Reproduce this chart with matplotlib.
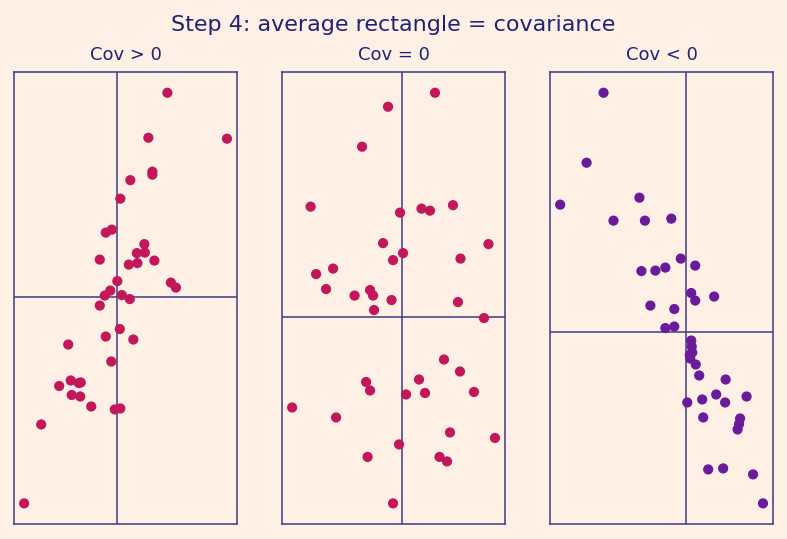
import numpy as np
import matplotlib
matplotlib.use("Agg")
import matplotlib.pyplot as plt

BG = "#fff0e5"
INK = "#1f2277"
LINE = "#3b3b88"

titles = ["Cov > 0", "Cov = 0", "Cov < 0"]
colors = ["#c2185b", "#c2185b", "#6a1b9a"]

# panel 1: positive covariance
pos_x = [1.01, 2.20, 0.63, 0.71, 0.71, 0.27, 0.07, -0.22, -0.10, 0.55,
         0.40, 0.56, -0.34, 0.24, 0.41, 0.75, 0.01, 1.08, 1.18, -0.24,
         -0.13, 0.10, 0.26, -0.34, 0.06, -0.22, 0.33, -0.97, -0.11, -0.92,
         -0.76, -0.72, -1.15, -0.90, -0.73, -0.51, -0.04, 0.07, -1.51, -1.85]
pos_y = [4.09, 3.17, 3.19, 2.51, 2.45, 2.34, 1.97, 1.29, 1.35, 1.06,
         0.88, 0.89, 0.75, 0.65, 0.68, 0.73, 0.32, 0.29, 0.19, 0.03,
         0.13, 0.04, -0.04, -0.17, -0.64, -0.79, -0.85, -0.95, -1.29, -1.67,
         -1.72, -1.71, -1.78, -1.96, -1.99, -2.19, -2.25, -2.23, -2.55, -4.13]

# panel 2: no covariance
zero_x = [0.67, -0.27, -0.79, -1.82, -0.03, 0.40, 0.57, 1.03, -0.37, 1.74,
          0.03, -0.17, 1.18, -1.37, -1.71, -1.51, -0.94, -0.63, -0.57, -0.20,
          1.13, -0.55, 1.65, 0.85, 1.17, 0.35, -0.71, -0.63, 0.09, 0.47,
          1.45, -2.19, -1.31, 0.97, 1.87, -0.05, -0.68, 0.76, 0.91, -0.17]
zero_y = [4.47, 4.19, 3.39, 2.19, 2.07, 2.15, 2.11, 2.22, 1.46, 1.44,
          1.26, 1.12, 1.15, 0.95, 0.84, 0.54, 0.41, 0.52, 0.41, 0.32,
          0.28, 0.12, -0.04, -0.87, -1.11, -1.27, -1.32, -1.49, -1.57, -1.54,
          -1.52, -1.83, -2.03, -2.33, -2.44, -2.57, -2.82, -2.82, -2.91, -3.75]

# panel 3: negative covariance
neg_x = [-1.65, -1.99, -2.52, -0.93, -1.45, -0.82, -0.29, -0.10, 0.19, -0.89,
         -0.61, -0.41, 0.11, 0.19, 0.57, -0.71, -0.23, -0.41, -0.23, 0.11,
         0.12, 0.13, 0.09, 0.20, 0.27, 0.80, 0.61, 1.22, 0.03, 0.33,
         0.79, 0.35, 1.09, 1.07, 1.04, 0.45, 0.75, 1.35, 1.55, 0.08]
neg_y = [4.79, 3.39, 2.55, 2.69, 2.23, 2.23, 2.27, 1.47, 1.33, 1.22,
         1.23, 1.29, 0.78, 0.63, 0.71, 0.53, 0.46, 0.08, 0.11, -0.17,
         -0.29, -0.41, -0.53, -0.65, -0.87, -0.95, -1.25, -1.29, -1.41, -1.35,
         -1.41, -1.71, -1.73, -1.84, -1.95, -2.75, -2.73, -2.85, -3.43, -0.46]

panels = [(pos_x, pos_y), (zero_x, zero_y), (neg_x, neg_y)]

fig = plt.figure(figsize=(7.87, 5.39), dpi=100, facecolor=BG)
lefts = [0.0178, 0.3583, 0.6989]
for i, (xs, ys) in enumerate(panels):
    ax = fig.add_axes([lefts[i], 0.028, 0.2835, 0.838], facecolor=BG)
    xs, ys = np.array(xs), np.array(ys)
    ax.scatter(xs, ys, s=54, color=colors[i], edgecolors="none", zorder=3)
    # mean lines split the cloud into the four quadrants
    ax.axvline(xs.mean(), color=LINE, lw=1.1, zorder=2)
    ax.axhline(ys.mean(), color=LINE, lw=1.1, zorder=2)
    ax.set_xticks([]); ax.set_yticks([])
    for sp in ax.spines.values():
        sp.set_color(LINE); sp.set_linewidth(1.1)
    ax.set_title(titles[i], color=INK, fontsize=13, pad=9)

fig.suptitle("Step 4: average rectangle = covariance", color=INK,
             fontsize=16, y=0.972)
fig.savefig("out.png", dpi=100, facecolor=BG)
